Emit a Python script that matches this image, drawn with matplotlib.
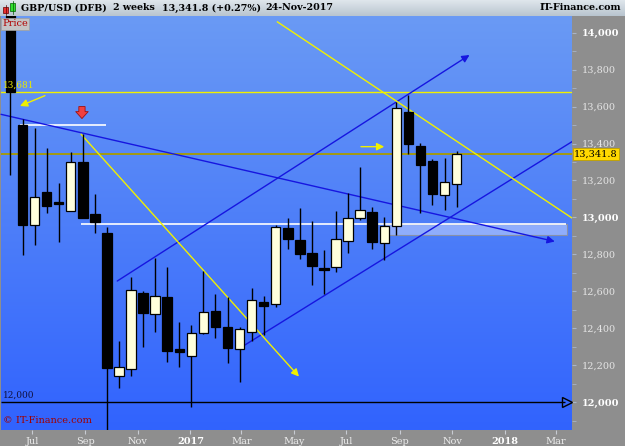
import numpy as np
import pandas as pd
import matplotlib
matplotlib.use("Agg")
from matplotlib import pyplot as plt
import matplotlib.dates as mdates
from matplotlib.colors import LinearSegmentedColormap
from matplotlib.patches import Rectangle
from matplotlib.ticker import MultipleLocator, FixedLocator, FuncFormatter

# ---- data (2-week candles, GBP/USD x 10000) ----
candle_dates = pd.date_range("2016-06-06", periods=38, freq="14D")
opens = [14150, 13500, 12959, 13140, 13080, 13035, 13299, 13019, 12918, 12142,
         12179, 12593, 12476, 12571, 12287, 12252, 12377, 12494, 12409, 12287,
         12382, 12544, 12530, 12941, 12878, 12806, 12725, 12734, 12874, 12999,
         13031, 12864, 12955, 13569, 13387, 13307, 13122, 13180]
highs = [14250, 13531, 13483, 13374, 13185, 13356, 13450, 13125, 12947, 12333,
         12676, 12602, 12779, 12730, 12433, 12418, 12711, 12586, 12571, 12409,
         12617, 12575, 12959, 12996, 13050, 12981, 12824, 13035, 13134, 13272,
         13058, 13001, 13627, 13663, 13405, 13315, 13324, 13361]
lows = [13230, 12797, 12851, 13023, 12866, 13035, 12996, 12914, 11800, 12079,
        12142, 12301, 12382, 12220, 12193, 11976, 12368, 12346, 12211, 12108,
        12333, 12364, 12514, 12828, 12774, 12635, 12584, 12707, 12806, 12986,
        12830, 12770, 12905, 13344, 13026, 13068, 13041, 13058]
closes = [13681, 12959, 13109, 13064, 13074, 13299, 12996, 12977, 12187, 12193,
          12608, 12485, 12575, 12279, 12271, 12377, 12487, 12409, 12292, 12395,
          12554, 12523, 12950, 12884, 12802, 12739, 12718, 12884, 12996, 13040,
          12869, 12956, 13591, 13398, 13284, 13127, 13190, 13341.8]

last_price = 13341.8
level_high = 13681
level_support = 12963
level_short = 13500
level_round = 12000

# trend lines: (date, price) start -> end
blue_down = [("2016-05-26", 13558), ("2018-02-28", 12870)]
chan_upper = [("2016-10-08", 12656), ("2017-11-21", 13879)]
chan_lower = [("2017-02-28", 12295), ("2018-03-20", 13410)]
yellow_down1 = [("2016-08-27", 13450), ("2017-05-07", 12139)]
yellow_down2 = [("2017-04-12", 14058), ("2018-03-20", 12997)]

month_ticks = ["2016-07-01", "2016-09-01", "2016-11-01", "2017-01-01", "2017-03-01",
               "2017-05-01", "2017-07-01", "2017-09-01", "2017-11-01", "2018-01-01",
               "2018-03-01"]
month_labels = ["Jul", "Sep", "Nov", "2017", "Mar", "May", "Jul", "Sep", "Nov", "2018", "Mar"]

title_parts = ["GBP/USD (DFB)", "2 weeks", "13,341.8 (+0.27%)", "24-Nov-2017"]
title_x = [21, 113, 162, 265]

FONT = "DejaVu Serif"
W, H = 625, 446


def d(s):
    return mdates.date2num(pd.Timestamp(s))


fig = plt.figure(figsize=(W / 100, H / 100), dpi=100, facecolor="#8e8e8e")
ax = fig.add_axes([1 / W, (H - 430) / H, 571 / W, 414 / H])

x0, x1 = d("2016-05-26"), d("2018-03-20")
y0, y1 = 11850, 14090

# gradient background (light at top, deep blue at bottom)
cmap = LinearSegmentedColormap.from_list("bg", ["#3163fe", "#6a9af4"])
grad = np.linspace(0, 1, 256).reshape(-1, 1)
ax.imshow(grad, extent=[x0, x1, y0, y1], aspect="auto", cmap=cmap, zorder=0,
          origin="lower")
ax.set_xlim(x0, x1)
ax.set_ylim(y0, y1)

# candles
xs = mdates.date2num(candle_dates)
body_w = 11.0
for x, o, h, l, c in zip(xs, opens, highs, lows, closes):
    ax.vlines(x, l, h, color="black", lw=1.0, zorder=4)
    bottom = min(o, c)
    height = max(abs(c - o), 8)
    fc = "#ffffdc" if c > o else "black"
    ax.bar(x, height, bottom=bottom, width=body_w, color=fc, edgecolor="black",
           lw=0.9, zorder=5)

# horizontal levels
ax.axhline(level_high, color="#f0f000", lw=1.0, zorder=3)
ax.axhline(last_price, color="#a89c00", lw=1.3, zorder=3)
ax.hlines(level_support, d("2016-08-27"), d("2018-03-13"), color="white", lw=1.2, zorder=3)
ax.hlines(level_short, d("2016-06-17"), d("2016-09-25"), color="white", lw=1.2, zorder=3)
ax.hlines(level_round, x0, d("2018-03-12"), color="black", lw=1.0, zorder=3)
ax.plot(d("2018-03-14"), level_round, marker=">", ms=7, mfc="none", mec="black",
        mew=1.0, zorder=3, clip_on=False)

# translucent zone
ax.add_patch(Rectangle((d("2017-08-15"), 12903), d("2018-03-14") - d("2017-08-15"), 60,
                       facecolor=(0.78, 0.84, 1.0, 0.55), edgecolor="#8890a8",
                       lw=0.8, zorder=2))


# trend lines
def trend(pts, color, arrow):
    (sa, pa), (sb, pb) = pts
    if arrow:
        ax.annotate("", xy=(d(sb), pb), xytext=(d(sa), pa),
                    arrowprops=dict(arrowstyle="-|>", color=color, lw=1.0,
                                    mutation_scale=11, shrinkA=0, shrinkB=0),
                    zorder=3)
    else:
        ax.plot([d(sa), d(sb)], [pa, pb], color=color, lw=1.0, zorder=3)


trend(blue_down, "#1616e0", True)
trend(chan_upper, "#1616e0", True)
trend(chan_lower, "#1616e0", False)
trend(yellow_down1, "#f0f000", True)
trend(yellow_down2, "#f0f000", False)

# small annotation arrows
ax.annotate("", xy=(d("2016-06-17"), 13603), xytext=(d("2016-07-16"), 13659),
            arrowprops=dict(arrowstyle="-|>", color="#f0f000", lw=1.0,
                            mutation_scale=11, shrinkA=0, shrinkB=0), zorder=6)
ax.annotate("", xy=(d("2017-08-14"), 13383), xytext=(d("2017-07-18"), 13383),
            arrowprops=dict(arrowstyle="-|>", color="#f0f000", lw=1.0,
                            mutation_scale=11, shrinkA=0, shrinkB=0), zorder=6)
ax.annotate("", xy=(d("2016-08-28"), 13535), xytext=(d("2016-08-28"), 13600),
            arrowprops=dict(arrowstyle="simple,head_width=0.9,tail_width=0.45",
                            fc="#f04040", ec="#a01010", lw=0.6,
                            mutation_scale=10, shrinkA=0, shrinkB=0), zorder=6)

# in-plot labels
ax.text(0.004, level_high + 12, "13,681", color="#e8e800", fontsize=6.5,
        family=FONT, transform=ax.get_yaxis_transform(), va="bottom", zorder=6)
ax.text(0.004, level_round + 12, "12,000", color="#101040", fontsize=6.5,
        family=FONT, transform=ax.get_yaxis_transform(), va="bottom", zorder=6)
ax.text(0.004, 0.012, "\u00a9 IT-Finance.com", color="#a00000", fontsize=7,
        family=FONT, transform=ax.transAxes, va="bottom", zorder=6)

# axes styling
for s in ax.spines.values():
    s.set_visible(False)
ax.yaxis.tick_right()
ax.yaxis.set_major_locator(MultipleLocator(200))
ax.yaxis.set_minor_locator(MultipleLocator(100))
ax.yaxis.set_major_formatter(FuncFormatter(lambda v, p: f"{v:,.0f}"))
ax.tick_params(axis="y", which="both", direction="out", length=3, color="#a8b4c8",
               pad=4, labelsize=7, labelcolor="#e4e4e4")
fig.canvas.draw()
for t, lab in zip(ax.yaxis.get_major_locator()(), ax.get_yticklabels()):
    lab.set_family(FONT)
    if abs(t % 1000) < 1:
        lab.set_fontweight("bold")
        lab.set_color("white")

ax.xaxis.set_major_locator(FixedLocator([d(m) for m in month_ticks]))
ax.set_xticklabels(month_labels)
ax.tick_params(axis="x", direction="out", length=3, color="#c8ccd4", pad=2,
               labelsize=7, labelcolor="#ececec")
for lab in ax.get_xticklabels():
    lab.set_family(FONT)
    if lab.get_text() in ("2017", "2018"):
        lab.set_fontweight("bold")
        lab.set_color("white")

# current price tag
ax.text(1.004, last_price, "13,341.8", transform=ax.get_yaxis_transform(),
        fontsize=7, family=FONT, color="black", va="center", ha="left", zorder=7,
        bbox=dict(boxstyle="square,pad=0.15", fc="#ffd800", ec="#c0a000", lw=0.6),
        clip_on=False)

# title bar
tb = fig.add_axes([0, 430 / H, 1, 16 / H])
tb.axis("off")
tb.imshow(np.linspace(0, 1, 32).reshape(-1, 1), extent=[0, W, 0, 16], aspect="auto",
          cmap=LinearSegmentedColormap.from_list("tb", ["#dfe6ec", "#b9c5cf"]),
          origin="upper")
tb.add_patch(Rectangle((3, 3), 5, 6, fc="#e83030", ec="#600000", lw=0.5))
tb.add_patch(Rectangle((10, 5), 5, 8, fc="#30e030", ec="#006000", lw=0.5))
tb.plot([5.5, 5.5], [1, 11], color="#600000", lw=0.5)
tb.plot([12.5, 12.5], [2, 15], color="#006000", lw=0.5)
for txt, tx in zip(title_parts, title_x):
    tb.text(tx, 8, txt, fontsize=6.8, fontweight="bold", family=FONT,
            va="center", ha="left")
tb.text(621, 8, "IT-Finance.com", fontsize=6.8, fontweight="bold", family=FONT,
        va="center", ha="right")
tb.set_xlim(0, W)
tb.set_ylim(0, 16)

# "Price" tag
fig.text(2 / W, (H - 24) / H, "Price", color="#b00000", fontsize=7, family=FONT,
         va="center", ha="left",
         bbox=dict(boxstyle="square,pad=0.15", fc="#c4c4c4", ec="#a0a0a0", lw=0.5))

fig.savefig("out.png", dpi=100, facecolor=fig.get_facecolor())
